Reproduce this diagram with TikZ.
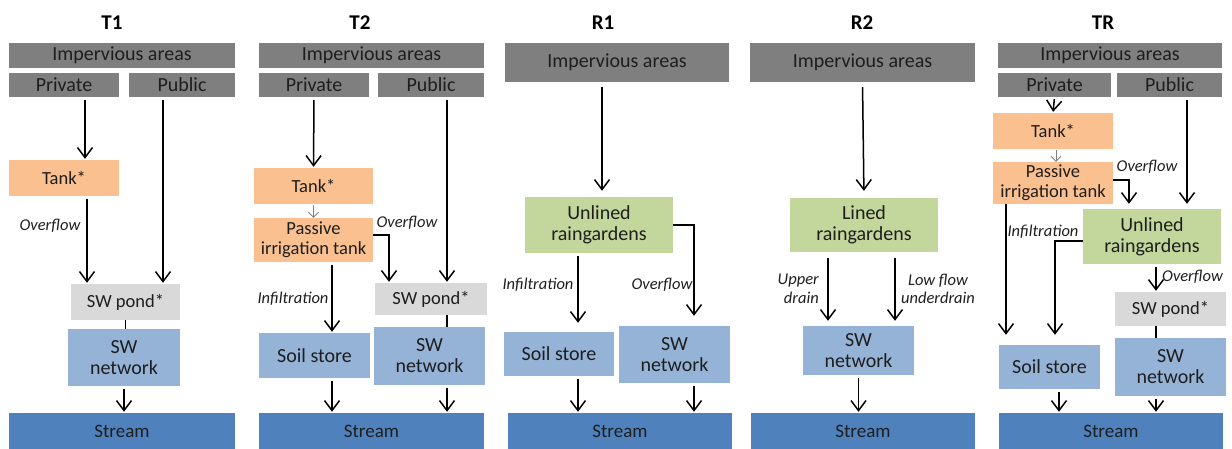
\documentclass[tikz,border=0pt]{standalone}
\usepackage{fontspec}
\setmainfont{Carlito}
\usetikzlibrary{arrows.meta}

\definecolor{areaC}{HTML}{7F7F7F}
\definecolor{tankC}{HTML}{FAC090}
\definecolor{gardenC}{HTML}{C3D69B}
\definecolor{pondC}{HTML}{D9D9D9}
\definecolor{storeC}{HTML}{95B3D7}
\definecolor{streamC}{HTML}{4F81BD}
\definecolor{inkC}{HTML}{1E1E1E}

\newcommand\bxfont{\fontsize{20}{21}\selectfont}
\newcommand\smbxfont{\fontsize{18.5}{20}\selectfont}
\newcommand\strfont{\fontsize{19}{20}\selectfont}
\newcommand\lblfont{\fontsize{16.5}{18.5}\selectfont\itshape}
\newcommand\ttlfont{\fontsize{21}{24}\selectfont\bfseries}

\tikzset{
  box/.style={inner sep=0pt, align=center, text=inkC, font=\bxfont},
  area/.style={box, fill=areaC},
  tankbox/.style={box, fill=tankC, font=\smbxfont},
  garden/.style={box, fill=gardenC},
  pond/.style={box, fill=pondC, font=\smbxfont},
  store/.style={box, fill=storeC},
  stream/.style={box, fill=streamC, font=\strfont},
  ttl/.style={inner sep=0pt, font=\ttlfont, text=black},
  lbl/.style={inner sep=0pt, font=\lblfont, text=inkC, align=center},
  arr/.style={draw=black, line width=1.5pt, -{Straight Barb[length=10pt,width=15pt]}, shorten <=3pt, shorten >=1pt},
  garr/.style={draw=gray, line width=0.9pt, -{Straight Barb[length=5pt,width=10pt]}, shorten <=1pt},
  link/.style={draw=black, line width=1.5pt},
}

\begin{document}
\begin{tikzpicture}[x=1pt, y=-1pt]
\useasboundingbox (0,0) rectangle (1232,448);

% ---------------- T1 ----------------
\node[ttl] (t1title) at (112,23) {T1};
\node[area, minimum width=226pt, minimum height=25pt] (t1imp) at (122,55.5) {Impervious areas};
\node[area, minimum width=110pt, minimum height=24pt] (t1priv) at (64,85) {Private};
\node[area, minimum width=106pt, minimum height=24pt] (t1pub) at (182,85) {Public};
\node[tankbox, minimum width=110pt, minimum height=36pt] (t1tank) at (64,178) {Tank*};
\node[pond, minimum width=109pt, minimum height=36pt] (t1pond) at (125.5,302) {SW pond*};
\node[store, minimum width=112pt, minimum height=57pt] (t1net) at (124,357.5) {SW\\network};
\node[stream, minimum width=226pt, minimum height=36pt] (t1stream) at (122,431) {Stream};
\node[lbl] (t1over) at (50,226) {Overflow};

\draw[arr] ([xshift=21pt]t1priv.south) -- ([xshift=21pt]t1priv.south |- t1tank.north);
\draw[arr] ([xshift=23pt]t1tank.south) -- ([xshift=23pt]t1tank.south |- t1pond.north);
\draw[arr] ([xshift=-19pt]t1pub.south) -- ([xshift=-19pt]t1pub.south |- t1pond.north);
\draw[link] (t1pond.south) -- (t1pond.south |- t1net.north);
\draw[arr] (t1net.south) -- (t1net.south |- t1stream.north);

% ---------------- T2 ----------------
\node[ttl] (t2title) at (360,23) {T2};
\node[area, minimum width=225pt, minimum height=25pt] (t2imp) at (371.5,55.5) {Impervious areas};
\node[area, minimum width=110pt, minimum height=24pt] (t2priv) at (314,85) {Private};
\node[area, minimum width=106pt, minimum height=24pt] (t2pub) at (431,85) {Public};
\node[tankbox, minimum width=119pt, minimum height=36pt] (t2tank) at (313.5,186) {Tank*};
\node[tankbox, minimum width=119pt, minimum height=44pt] (t2pass) at (313.5,240) {Passive\\irrigation tank};
\node[pond, minimum width=112pt, minimum height=32pt] (t2pond) at (431,299) {SW pond*};
\node[store, minimum width=111pt, minimum height=58pt] (t2net) at (429.5,356) {SW\\network};
\node[store, minimum width=111pt, minimum height=45pt] (t2soil) at (314.5,355.5) {Soil store};
\node[stream, minimum width=225pt, minimum height=36pt] (t2stream) at (371.5,431) {Stream};
\node[lbl] (t2over) at (407,223) {Overflow};
\node[lbl] (t2infil) at (293,299) {Infiltration};

\draw[arr] (t2priv.south) -- (t2tank.north);
\draw[garr] (t2tank.south) -- (t2pass.north);
\draw[arr, shorten <=0pt] ([yshift=5pt]t2pass.east) -| ([xshift=-42pt]t2pond.north);
\draw[arr] ([xshift=16pt]t2pub.south) -- ([xshift=16pt]t2pub.south |- t2pond.north);
\draw[link] ([xshift=16pt]t2pond.south) -- ([xshift=16pt]t2pond.south |- t2net.north);
\draw[arr] ([xshift=18.5pt]t2pass.south) -- ([xshift=18.5pt]t2pass.south |- t2soil.north);
\draw[arr] ([xshift=17.5pt]t2soil.south) -- ([xshift=17.5pt]t2soil.south |- t2stream.north);
\draw[arr] ([xshift=17.5pt]t2net.south) -- ([xshift=17.5pt]t2net.south |- t2stream.north);

% ---------------- R1 ----------------
\node[ttl] (r1title) at (603,23) {R1};
\node[area, minimum width=224pt, minimum height=39pt] (r1imp) at (617,62.5) {Impervious areas};
\node[garden, minimum width=148pt, minimum height=56pt] (r1rg) at (599,225) {Unlined\\raingardens};
\node[store, minimum width=110pt, minimum height=44pt] (r1soil) at (559,354) {Soil store};
\node[store, minimum width=111pt, minimum height=57pt] (r1net) at (674.5,354.5) {SW\\network};
\node[stream, minimum width=224pt, minimum height=36pt] (r1stream) at (620,431) {Stream};
\node[lbl] (r1infil) at (538,285) {Infiltration};
\node[lbl] (r1over) at (662,285) {Overflow};

\draw[arr, shorten <=5pt, shorten >=6pt] ([xshift=-15pt]r1imp.south) -- ([xshift=-15pt]r1imp.south |- r1rg.north);
\draw[arr, shorten <=0pt, shorten >=10pt] (r1rg.east) -| ([xshift=19.5pt]r1net.north);
\draw[arr, shorten >=9pt] ([xshift=19pt]r1soil.north |- r1rg.south) -- ([xshift=19pt]r1soil.north);
\draw[arr] ([xshift=19pt]r1soil.south) -- ([xshift=19pt]r1soil.south |- r1stream.north);
\draw[arr] ([xshift=19.5pt]r1net.south) -- ([xshift=19.5pt]r1net.south |- r1stream.north);

% ---------------- R2 ----------------
\node[ttl] (r2title) at (862,23) {R2};
\node[area, minimum width=225pt, minimum height=39pt] (r2imp) at (862.5,62.5) {Impervious areas};
\node[garden, minimum width=148pt, minimum height=54pt] (r2rg) at (864,225) {Lined\\raingardens};
\node[store, minimum width=111pt, minimum height=49pt] (r2net) at (858.5,350.5) {SW\\network};
\node[stream, minimum width=224pt, minimum height=36pt] (r2stream) at (863,431) {Stream};
\node[lbl, anchor=east, align=right] (r2upper) at (819,289) {Upper\\drain};
\node[lbl] (r2low) at (938,289) {Low flow\\underdrain};

\draw[arr, shorten <=5pt, shorten >=7pt] (r2imp.south) -- (r2rg.north);
\draw[arr, shorten <=6pt, shorten >=5pt] ([xshift=-36pt]r2rg.south) -- ([xshift=-36pt]r2rg.south |- r2net.north);
\draw[arr, shorten <=6pt, shorten >=5pt] ([xshift=31pt]r2rg.south) -- ([xshift=31pt]r2rg.south |- r2net.north);
\draw[arr] (r2net.south) -- (r2net.south |- r2stream.north);

% ---------------- TR ----------------
\node[ttl] (trtitle) at (1103,23) {TR};
\node[area, minimum width=224pt, minimum height=25pt] (trimp) at (1110,55.5) {Impervious areas};
\node[area, minimum width=113pt, minimum height=24pt] (trpriv) at (1054.5,85) {Private};
\node[area, minimum width=105pt, minimum height=24pt] (trpub) at (1169.5,85) {Public};
\node[tankbox, minimum width=120pt, minimum height=36pt] (trtank) at (1053,131) {Tank*};
\node[tankbox, minimum width=120pt, minimum height=42pt] (trpass) at (1053,183) {Passive\\irrigation tank};
\node[garden, minimum width=138pt, minimum height=55pt] (trrg) at (1152,236.5) {Unlined\\raingardens};
\node[pond, minimum width=111pt, minimum height=34pt] (trpond) at (1170.5,309) {SW pond*};
\node[store, minimum width=111pt, minimum height=58pt] (trnet) at (1170.5,367) {SW\\network};
\node[store, minimum width=101pt, minimum height=44pt] (trsoil) at (1049.5,367) {Soil store};
\node[stream, minimum width=224pt, minimum height=36pt] (trstream) at (1111,431) {Stream};
\node[lbl] (trover) at (1147,167) {Overflow};
\node[lbl] (trinfil) at (1043,232) {Infiltration};
\node[lbl, anchor=west] (trover2) at (1162,277) {Overflow};

\draw[arr, shorten <=2pt] (trpriv.south) -- (trtank.north);
\draw[garr] ([xshift=3pt]trtank.south) -- ([xshift=3pt]trpass.north);
\draw[arr, shorten <=0pt, shorten >=5pt] ([yshift=3pt]trpass.east) -| ([xshift=-23pt]trrg.north);
\draw[arr, shorten >=5pt] ([xshift=17.5pt]trpub.south) -- ([xshift=17.5pt]trpub.south |- trrg.north);
\draw[arr, shorten <=0pt, shorten >=10pt] ([xshift=-47pt]trpass.south) -- ([xshift=-47pt]trpass.south |- trsoil.north);
\draw[arr, shorten <=0pt, shorten >=10pt] ([yshift=-4.5pt]trrg.west) -| ([xshift=5.5pt]trsoil.north);
\draw[arr] ([xshift=4pt]trrg.south) -- ([xshift=4pt]trrg.south |- trpond.north);
\draw[link] ([xshift=-14.5pt]trpond.south) -- ([xshift=-14.5pt]trpond.south |- trnet.north);
\draw[arr] ([xshift=9.5pt]trsoil.south) -- ([xshift=9.5pt]trsoil.south |- trstream.north);
\draw[arr] ([xshift=-14.5pt]trnet.south) -- ([xshift=-14.5pt]trnet.south |- trstream.north);
\end{tikzpicture}
\end{document}
